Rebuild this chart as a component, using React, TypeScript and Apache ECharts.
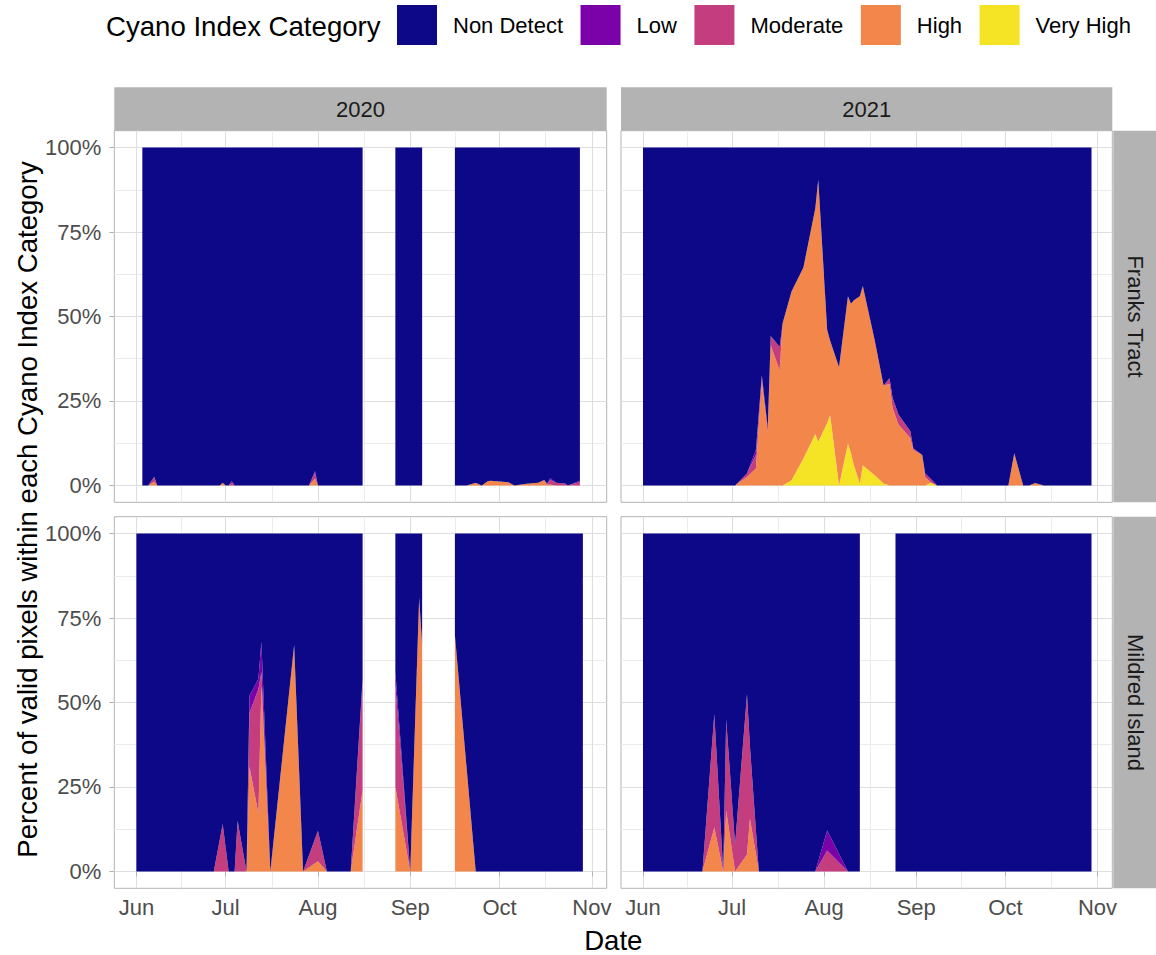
import React, { useEffect, useRef } from 'react';
import * as echarts from 'echarts';

const FONT = "'Liberation Sans', Arial, sans-serif";

const categories = ['Non Detect', 'Low', 'Moderate', 'High', 'Very High'];
const categoryColors = ['#0D0887', '#7A02A8', '#C43E7F', '#F2864B', '#F5E326'];
const years = ['2020', '2021'];
const sites = ['Franks Tract', 'Mildred Island'];
const monthTicks = ['06-01', '07-01', '08-01', '09-01', '10-01', '11-01'];
const monthLabels = ['Jun', 'Jul', 'Aug', 'Sep', 'Oct', 'Nov'];
const minorMonthTicks = ['06-16 00', '07-16 12', '08-16 12', '09-16 00', '10-16 12'];
const yTicks = [0, 25, 50, 75, 100];
const yMinorTicks = [12.5, 37.5, 62.5, 87.5];

// ---- Franks Tract 2020 ----
const ft2020Dates = ['06-03','06-05','06-07','06-08','06-29','06-30','07-01','07-02','07-03','07-04','07-29','07-31','08-01','08-16','08-21','08-27','09-05','09-10','09-16','09-20','09-23','09-25','09-27','09-28','10-04','10-06','10-10','10-14','10-16','10-17','10-18','10-20','10-23','10-24','10-28'];
const ft2020VeryHigh = [0,0,0,0,0,0,0,0,0,0,0,0,0,0,null,0,0,null,0,0,0,0,0,0,0,0,0,0,0,0,0,0,0,0,0];
const ft2020High = [0,0,1.1,0,0,0.8,0,0,0,0,0,2,0,0,null,0,0,null,0,0,0.8,0,1.2,1.4,0.9,0,0.5,0.8,1.6,0.2,0.3,0,0,0,0];
const ft2020Moderate = [0,0,1.5,0,0,0,0,0,0.8,0,0,1.6,0,0,null,0,0,null,0,0,0,0,0,0,0,0,0,0,0,0.3,1.3,0.8,0.6,0,1];
const ft2020Low = [0,0,0,0,0,0,0,0,0.5,0,0,0.7,0,0,null,0,0,null,0,0,0,0,0,0,0,0,0,0,0,0,0.5,0,0,0,0.4];
const ft2020NonDetect = [100,100,97.4,100,100,99.2,100,100,98.7,100,100,95.7,100,100,null,100,100,null,100,100,99.2,100,98.8,98.6,99.1,100,99.5,99.2,98.4,99.5,97.9,99.2,99.4,100,98.6];

// ---- Mildred Island 2020 ----
const mi2020Dates = ['06-01','06-27','06-30','07-02','07-04','07-05','07-08','07-09','07-12','07-13','07-16','07-24','07-27','08-01','08-04','08-12','08-16','08-21','08-27','09-01','09-04','09-05','09-10','09-16','09-23','10-29'];
const mi2020VeryHigh = [0,0,0,0,0,0,0,0,0,0,0,0,0,0,0,0,0,null,0,0,0,0,null,0,0,0];
const mi2020High = [0,0,0,0,0,0,0,31,17,55,0,67,0,3,0,0,24,null,25,0,81,67,null,70,0,0];
const mi2020Moderate = [0,0,14,0,0,15,0,16,37,4,0,0,0,9,0,0,32,null,30,0,0,0,null,0,0,0];
const mi2020Low = [0,0,0,0,0,0,0,5,3,9,0,0,0,0,0,0,1,null,4,0,0,0,null,0,0,0];
const mi2020NonDetect = [100,100,86,100,100,85,100,48,43,32,100,33,100,88,100,100,43,null,41,100,19,33,null,30,100,100];

// ---- Franks Tract 2021 ----
const ft2021Dates = ['06-01','07-02','07-06','07-09','07-11','07-13','07-14','07-17','07-18','07-21','07-25','07-29','07-30','08-02','08-03','08-06','08-09','08-10','08-11','08-13','08-14','08-18','08-21','08-23','08-24','08-26','08-30','08-31','09-03','09-04','09-06','09-08','10-02','10-04','10-07','10-09','10-11','10-14','10-30'];
const ft2021VeryHigh = [0,0,0,0,0,0,0,0,0,1.5,8,15.2,12.9,18.5,20.8,0,12.4,9.6,6,0.6,6,3,0.6,0,0,0,0,0,0,0,0.8,0,0,0,0,0,0,0,0];
const ft2021High = [0,0,2.5,5,31,15.5,41.5,34,48,55.9,56.5,66.8,77.6,27.5,22,35,43.6,44.2,48.8,55.4,53,40,29,30,23,18,14,10.5,9,2.5,0,0,0,9.5,0,0,0.7,0,0];
const ft2021Moderate = [0,0,1,4,1.6,1.5,2.7,7,0,0,0,0,0,0,0,0,0,0,0,0,0,0,0,1.7,3,3,2,0.5,0,1,1,0,0,0,0,0,0,0,0];
const ft2021Low = [0,0,0,1.5,0,0,0,0,0,0,0,0,0,0,0,0,0,0,0,0,0,0,0,0,0,0,0,0,0,0,0,0,0,0,0,0,0,0,0];
const ft2021NonDetect = [100,100,96.5,89.5,67.4,83,55.8,59,52,42.6,35.5,18,9.5,54,57.2,65,44,46.2,45.2,44,41,57,70.4,68.3,74,79,84,89,91,96.5,98.2,100,100,90.5,100,100,99.3,100,100];

// ---- Mildred Island 2021 ----
const mi2021Dates = ['06-01','06-21','06-25','06-28','06-29','07-02','07-06','07-07','07-10','07-29','08-02','08-09','08-13','08-19','08-25','10-30'];
const mi2021VeryHigh = [0,0,0,0,0,0,0,0,0,0,0,0,0,null,0,0];
const mi2021High = [0,0,13,0,18,0,5,15.6,0,0,0,0,0,null,0,0];
const mi2021Moderate = [0,0,33.5,0,27,8,47.5,21.4,0,0,6.2,0,0,null,0,0];
const mi2021Low = [0,0,0,0,0,0,0,0,0,0,5.9,0,0,null,0,0];
const mi2021NonDetect = [100,100,53.5,100,55,92,47.5,63,100,100,87.9,100,100,null,100,100];

const panels = [
  { row: 0, col: 0, dates: ft2020Dates, values: [ft2020NonDetect, ft2020Low, ft2020Moderate, ft2020High, ft2020VeryHigh] },
  { row: 0, col: 1, dates: ft2021Dates, values: [ft2021NonDetect, ft2021Low, ft2021Moderate, ft2021High, ft2021VeryHigh] },
  { row: 1, col: 0, dates: mi2020Dates, values: [mi2020NonDetect, mi2020Low, mi2020Moderate, mi2020High, mi2020VeryHigh] },
  { row: 1, col: 1, dates: mi2021Dates, values: [mi2021NonDetect, mi2021Low, mi2021Moderate, mi2021High, mi2021VeryHigh] },
];

// layout (pixels)
const panelLeft = [114.3, 621];
const panelWidth = [492.4, 491.3];
const panelTop = [130.7, 516.7];
const panelHeight = 371.6;
const stripSize = 43.4;

// 'MM-DD' or 'MM-DD HH' -> timestamp of that calendar day in the given year
function toTime(year: string, md: string): number {
  const [datePart, hourPart] = md.split(' ');
  const [m, d] = datePart.split('-').map(Number);
  return new Date(Number(year), m - 1, d, hourPart ? Number(hourPart) : 0).getTime();
}

function buildOption() {
  const grids: any[] = [];
  const xAxes: any[] = [];
  const yAxes: any[] = [];
  const series: any[] = [];

  panels.forEach((p, i) => {
    const year = years[p.col];
    const axisMin = toTime(year, '05-24 14');
    const axisMax = toTime(year, '11-06 00');
    const majors = monthTicks.map((m) => toTime(year, m));
    const minors = minorMonthTicks.map((m) => toTime(year, m));
    const bottom = p.row === 1;
    const left = p.col === 0;

    grids.push({
      left: panelLeft[p.col],
      top: panelTop[p.row],
      width: panelWidth[p.col],
      height: panelHeight,
      show: true,
      borderColor: '#B3B3B3',
      borderWidth: 1,
      backgroundColor: '#FFFFFF',
      containLabel: false,
    });

    // x axis 3i: major month breaks (labels, ticks, grid)
    xAxes.push({
      type: 'value',
      gridIndex: i,
      min: axisMin,
      max: axisMax,
      position: 'bottom',
      axisLine: { show: false },
      axisTick: { show: bottom, length: 5, lineStyle: { color: '#B3B3B3', width: 1 }, customValues: majors },
      axisLabel: {
        show: bottom,
        customValues: majors,
        formatter: (v: number) => {
          const k = majors.indexOf(v);
          return k >= 0 ? monthLabels[k] : '';
        },
        fontSize: 22,
        color: '#4D4D4D',
        fontFamily: FONT,
        margin: 8,
      },
      splitLine: { show: true, customValues: majors, lineStyle: { color: '#DEDEDE', width: 1 } },
      minorTick: { show: false },
      minorSplitLine: { show: false },
    });
    // x axis 3i+1: minor breaks (grid only)
    xAxes.push({
      type: 'value',
      gridIndex: i,
      min: axisMin,
      max: axisMax,
      position: 'top',
      axisLine: { show: false },
      axisTick: { show: false, customValues: minors },
      axisLabel: { show: false, customValues: minors },
      splitLine: { show: true, customValues: minors, lineStyle: { color: '#EBEBEB', width: 1 } },
    });
    // x axis 3i+2: time axis carrying the data (hidden)
    xAxes.push({
      type: 'time',
      gridIndex: i,
      min: axisMin,
      max: axisMax,
      show: false,
      splitLine: { show: false },
    });

    yAxes.push({
      type: 'value',
      gridIndex: i,
      min: -5,
      max: 105,
      position: 'left',
      axisLine: { show: false },
      axisTick: { show: left, length: 5, lineStyle: { color: '#B3B3B3', width: 1 }, customValues: yTicks },
      axisLabel: {
        show: left,
        customValues: yTicks,
        formatter: (v: number) => `${v}%`,
        fontSize: 22,
        color: '#4D4D4D',
        fontFamily: FONT,
        margin: 13,
      },
      splitLine: { show: true, customValues: yTicks, lineStyle: { color: '#DEDEDE', width: 1 } },
    });
    yAxes.push({
      type: 'value',
      gridIndex: i,
      min: -5,
      max: 105,
      position: 'right',
      axisLine: { show: false },
      axisTick: { show: false, customValues: yMinorTicks },
      axisLabel: { show: false, customValues: yMinorTicks },
      splitLine: { show: true, customValues: yMinorTicks, lineStyle: { color: '#EBEBEB', width: 1 } },
    });

    // stack bottom -> top: Very High, High, Moderate, Low, Non Detect
    for (let c = categories.length - 1; c >= 0; c--) {
      const vals = p.values[c];
      series.push({
        type: 'line',
        name: categories[c],
        xAxisIndex: i * 3 + 2,
        yAxisIndex: i * 2,
        stack: `panel${i}`,
        data: p.dates.map((d, k) => [toTime(year, d), vals[k]]),
        symbol: 'none',
        showSymbol: false,
        connectNulls: false,
        lineStyle: { width: 0 },
        itemStyle: { color: categoryColors[c] },
        areaStyle: { color: categoryColors[c], opacity: 1 },
        silent: true,
        z: 3,
      });
    }
  });

  const graphic: any[] = [];
  graphic.push({
    type: 'text',
    x: 106,
    y: 26,
    style: { text: 'Cyano Index Category', fontSize: 27.6, fontFamily: FONT, fill: '#000', align: 'left', verticalAlign: 'middle' },
  });
  years.forEach((y, c) => {
    graphic.push({
      type: 'rect',
      shape: { x: panelLeft[c], y: panelTop[0] - stripSize, width: panelWidth[c], height: stripSize },
      style: { fill: '#B3B3B3' },
    });
    graphic.push({
      type: 'text',
      x: panelLeft[c] + panelWidth[c] / 2,
      y: panelTop[0] - stripSize / 2,
      style: { text: y, fontSize: 22, fontFamily: FONT, fill: '#1A1A1A', align: 'center', verticalAlign: 'middle' },
    });
  });
  sites.forEach((s, r) => {
    const sx = panelLeft[1] + panelWidth[1] + 1;
    graphic.push({
      type: 'rect',
      shape: { x: sx, y: panelTop[r], width: stripSize, height: panelHeight },
      style: { fill: '#B3B3B3' },
    });
    graphic.push({
      type: 'text',
      x: sx + stripSize / 2,
      y: panelTop[r] + panelHeight / 2,
      rotation: -Math.PI / 2,
      style: { text: s, fontSize: 22, fontFamily: FONT, fill: '#1A1A1A', align: 'center', verticalAlign: 'middle' },
    });
  });
  graphic.push({
    type: 'text',
    x: (panelLeft[0] + panelLeft[1] + panelWidth[1]) / 2,
    y: 940,
    style: { text: 'Date', fontSize: 27.6, fontFamily: FONT, fill: '#000', align: 'center', verticalAlign: 'middle' },
  });
  graphic.push({
    type: 'text',
    x: 27,
    y: (panelTop[0] + panelTop[1] + panelHeight) / 2,
    rotation: Math.PI / 2,
    style: {
      text: 'Percent of valid pixels within each Cyano Index Category',
      fontSize: 27.6,
      fontFamily: FONT,
      fill: '#000',
      align: 'center',
      verticalAlign: 'middle',
    },
  });

  return {
    animation: false,
    backgroundColor: '#FFFFFF',
    textStyle: { fontFamily: FONT },
    legend: {
      data: categories,
      left: 397,
      top: 5,
      padding: 0,
      itemWidth: 40,
      itemHeight: 40,
      itemGap: 17.5,
      icon: 'rect',
      textStyle: { fontSize: 22, color: '#000', fontFamily: FONT, padding: [0, 0, 0, 11] },
    },
    grid: grids,
    xAxis: xAxes,
    yAxis: yAxes,
    series,
    graphic,
  };
}

export default function App() {
  const ref = useRef<HTMLDivElement>(null);
  useEffect(() => {
    document.body.style.margin = '0';
    const chart = echarts.init(ref.current!, null, { renderer: 'svg' });
    chart.setOption(buildOption() as any);
    return () => chart.dispose();
  }, []);
  return <div ref={ref} style={{ width: 1156, height: 955 }} />;
}
